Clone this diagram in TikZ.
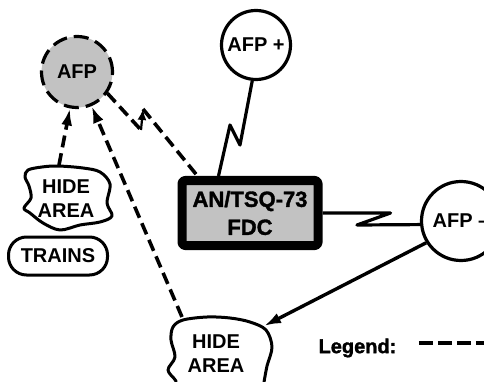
\documentclass[tikz,border=0pt]{standalone}
\usepackage{fontspec}
\setmainfont{Liberation Sans}
\newfontfamily\heavyfont[FakeBold=1.6]{Liberation Sans Bold}
\usetikzlibrary{arrows.meta}
\begin{document}
\begin{tikzpicture}[x=1pt,y=-1pt,line width=3.2pt,line join=round,
  lbl/.style={font=\bfseries\fontsize{20}{24}\selectfont,align=center,inner sep=0pt},
  afpnode/.style={circle,draw,line width=3.2pt,inner sep=0pt,font=\bfseries\fontsize{20}{24}\selectfont},
  dsh/.style={line width=3.6pt,dash pattern=on 12pt off 6pt},
  shade/.style={fill=black!24},
  blob/.style={line width=3pt},
  bigtip/.style={-{Latex[length=17pt,width=11pt]}},
]
\useasboundingbox (0,0) rectangle (484,382);
\clip (0,0) rectangle (484,382);

% circles
\node[afpnode,shade,minimum size=71pt,dash pattern=on 15pt off 7pt] (afp1) at (77,72) {AFP};
\node[afpnode,minimum size=69pt] (afp2) at (256,45) {AFP +};
\node[afpnode,minimum size=79pt] (afp3) at (461,221) {AFP --};

% FDC box
\node[draw,line width=9pt,shade,rounded corners=3pt,minimum width=136pt,minimum height=65pt,
  align=center,inner sep=0pt,font=\heavyfont\fontsize{22}{28}\selectfont] (fdc) at (250,213) {AN/TSQ-73\\FDC};

% hide area 1
\draw[blob] plot[smooth cycle,tension=0.55] coordinates {(28,170) (42,167) (58,166) (83,168) (100,172) (110,184) (107,203) (112,216) (100,222) (80,225) (60,230) (43,223) (30,213) (24,208) (31,198) (29,186) (25,177)};
\node[lbl] (hide1) at (66,199) {HIDE\\AREA};
\coordinate (h1top) at (59,165);

% trains
\node[draw,line width=3pt,rounded corners=18pt,minimum width=99pt,minimum height=38pt,inner sep=0pt,
  font=\bfseries\fontsize{20}{24}\selectfont] (trains) at (58,256) {TRAINS};

% hide area 2
\draw[blob] plot[smooth cycle,tension=0.55] coordinates {(173,327) (183,320) (207,317) (230,318) (250,322) (266,330) (272,347) (267,366) (264,382) (262,392) (180,392) (176,381) (168,370) (175,357) (171,340)};
\node[lbl] (hide2) at (216,354) {HIDE\\AREA};
\coordinate (h2top) at (182,317);
\coordinate (h2ne) at (264,326);

% dashed arrows to AFP
\draw[dsh,bigtip] (h1top) -- (afp1);
\draw[dsh,bigtip] (h2top) -- (afp1);

% dashed zig-zag AFP -- FDC
\coordinate (j1) at (141,130);
\coordinate (j2) at (143,109);
\draw[dsh] (afp1.-35) -- (j1);
\draw[line width=2.2pt,-{Latex[length=11pt,width=9pt]}] (j1) -- (j2);
\draw[dsh] (j2) -- ([xshift=20pt]fdc.north west);

% lightning AFP+ -- FDC
\draw (afp2.-96) -- (240,145) -- (230,125) -- ([xshift=41pt]fdc.north west);

% lightning FDC -- AFP-
\draw (fdc.east) -- ++(68,0) -- (357,225) -- (afp3.185);

% solid arrow AFP- -> hide area 2
\draw[line width=3.4pt,bigtip] (afp3.212) -- (h2ne);

% legend
\node[font=\heavyfont\fontsize{20}{22}\selectfont,anchor=west,inner sep=0pt] (leg) at (317,348) {Legend:};
\coordinate (legend end) at (492,343);
\draw[line width=3.6pt,dash pattern=on 14pt off 5pt] ([xshift=21pt,yshift=5pt]leg.east) -- (legend end);
\end{tikzpicture}
\end{document}
